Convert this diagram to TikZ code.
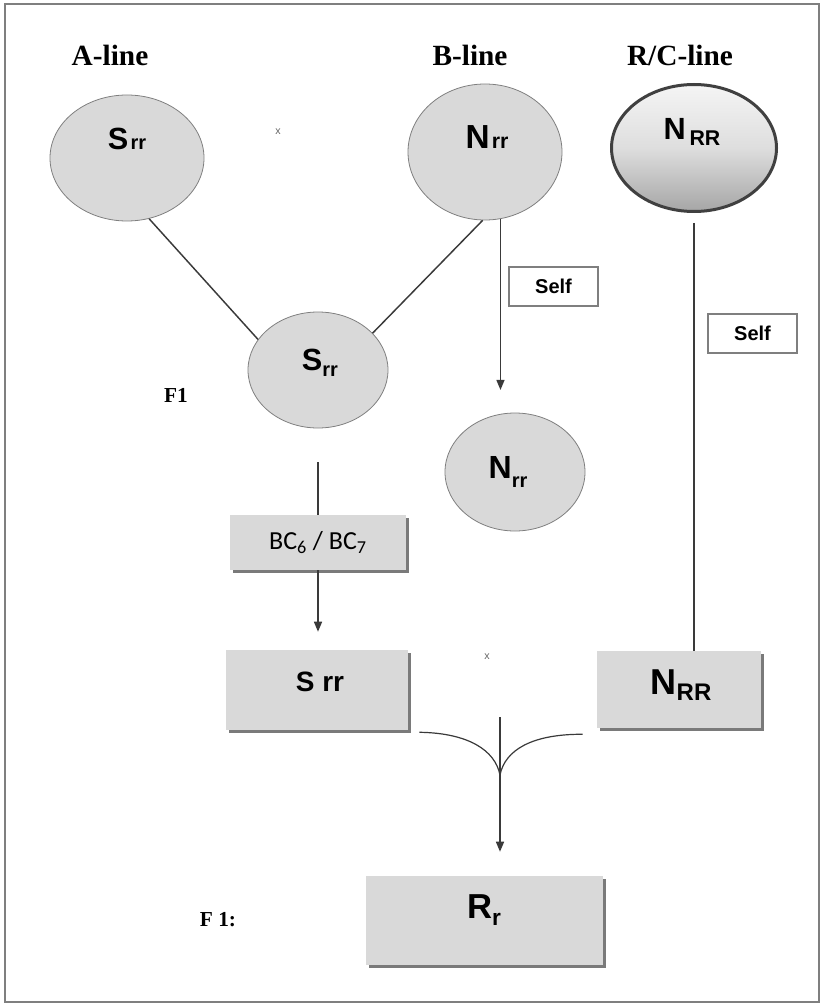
\documentclass[tikz,border=0pt]{standalone}
\usepackage{fontspec}
\setmainfont{Liberation Serif}
\setsansfont{Liberation Sans}
\newfontfamily\califont{Carlito}
\usepackage{tikz}
\usetikzlibrary{arrows.meta, positioning, calc, shapes.geometric, shadows}
\definecolor{boxgray}{HTML}{D9D9D9}
\definecolor{edgegray}{HTML}{7F7F7F}
\definecolor{shadegray}{HTML}{7A7A7A}
\definecolor{linegray}{HTML}{3A3A3A}
\newcommand{\fsz}[1]{\fontsize{#1}{#1}\selectfont}
\tikzset{
  oval/.style={ellipse, draw=edgegray, fill=boxgray, line width=0.6pt, inner sep=0pt},
  graybox/.style={rectangle, fill=boxgray, inner sep=0pt,
    drop shadow={shadow xshift=2.25pt, shadow yshift=-2.25pt, fill=shadegray, opacity=1}},
  selfbox/.style={rectangle, draw=edgegray, fill=white, line width=0.8pt,
    minimum width=66.75pt, minimum height=29.25pt, font=\sffamily\bfseries\fsz{15}},
  sym/.style={font=\sffamily\bfseries, inner sep=0pt},
  linelabel/.style={font=\bfseries\fsz{22}},
  conn/.style={draw=linegray, line width=1.1pt},
  arr/.style={conn, -{Triangle[width=6pt,length=7.5pt]}},
}

\begin{document}
\begin{tikzpicture}[x=0.75pt, y=-0.75pt]
  \useasboundingbox (0,0) rectangle (822,1005);
  \draw[edgegray, line width=1.1pt] (5,4) rectangle (819,1002);

  % Line labels
  \node[linelabel] (aline) at (110,55) {A-line};
  \node[linelabel] (bline) at (470,55) {B-line};
  \node[linelabel] (rcline) at (680,55) {R/C-line};

  % Ellipses
  \node[oval, minimum width=115.5pt, minimum height=94.5pt] (sl) at (127,158) {};
  \node[oval, minimum width=115.5pt, minimum height=102pt] (nt) at (485,152) {};
  \node[ellipse, draw=black!75, line width=2.25pt, top color=white!96!black,
    bottom color=black!35, middle color=black!13, minimum width=123.75pt,
    minimum height=95.25pt] (nR) at (694,148) {};
  \node[oval, minimum width=105pt, minimum height=87pt] (sm) at (318,370) {};
  \node[oval, minimum width=105pt, minimum height=88.5pt] (nb) at (515,472) {};

  \node[sym] (sl-t) at (127,139) {{\fsz{23}S}\,{\fsz{15}rr}};
  \node[sym] (nt-t) at (487,137) {{\fsz{25}N}\,{\fsz{16}rr}};
  \node[sym] (nR-t) at (692,132) {{\fsz{23}N}\ \raisebox{-4.5pt}{\fsz{16}RR}};
  \node[sym] (sm-t) at (320,363) {{\fsz{23}S}\raisebox{-4.5pt}{\fsz{15}rr}};
  \node[sym] (nb-t) at (508,472) {{\fsz{24}N}\raisebox{-7pt}{\fsz{15}rr}};

  % Boxes
  \node[graybox, minimum width=132pt, minimum height=41.25pt,
    font=\califont\fsz{19.5}] (bc) at (318,542.5)
    {BC\textsubscript{6} / BC\textsubscript{7}};
  \node[graybox, minimum width=136.5pt, minimum height=60pt] (srrb) at (317,690) {};
  \node[graybox, minimum width=123pt, minimum height=57.75pt] (nRb) at (679,689.5) {};
  \node[graybox, minimum width=177.75pt, minimum height=66.75pt] (rrb) at (484.5,920.5) {};
  \node[sym] (srrb-t) at (320,682) {\fsz{21}S rr};
  \node[sym] (nRb-t) at (681,685) {{\fsz{27}N}\raisebox{-5pt}{\fsz{18}RR}};
  \node[sym] (rrb-t) at (484,910) {{\fsz{26}R}\raisebox{-5pt}{\fsz{17}r}};

  \node[selfbox] (self1) at (553.5,286.5) {Self};
  \node[selfbox] (self2) at (752.5,333.5) {Self};

  % Marks and notes
  \node[font=\sffamily\fsz{8}, text=black!60] (mk1) at (278,132) {x};
  \node[font=\sffamily\fsz{8}, text=black!60] (mk2) at (487,657) {x};
  \node[font=\bfseries\fsz{16}] (f1) at (176,395) {F1};
  \node[font=\bfseries\fsz{16}] (f1b) at (218,920) {F 1:};

  % Connectors
  \draw[conn] (sl.-70) -- (sm.153);
  \draw[conn] (nt.-92) -- (sm.34);
  \draw[arr, shorten >=17pt] (nt.-77) -- (nt.-77 |- nb.north);
  \draw[conn, shorten <=25.5pt] (sm.south) -- (sm.south |- bc.north);
  \draw[arr, shorten >=13.5pt] (bc.south) -- (bc.south |- srrb.north);
  \draw[conn, shorten <=7.5pt] (nR.south) -- (nR.south |- nRb.north);

  % Merge into R_r
  \coordinate (jn) at (500,775);
  \coordinate (jtop) at (500,717);
  \draw[conn, line width=0.9pt] ($(srrb.south east)+(11,2)$) .. controls (468,733) and (495,750) .. (jn);
  \draw[conn, line width=0.9pt] ($(nRb.south west)+(-14,6)$) .. controls (532,734) and (505,750) .. (jn);
  \draw[conn, line width=0.9pt] (jtop) -- (jn);
  \draw[arr, shorten >=18pt] (jn) -- (jn |- rrb.north);
\end{tikzpicture}
\end{document}
